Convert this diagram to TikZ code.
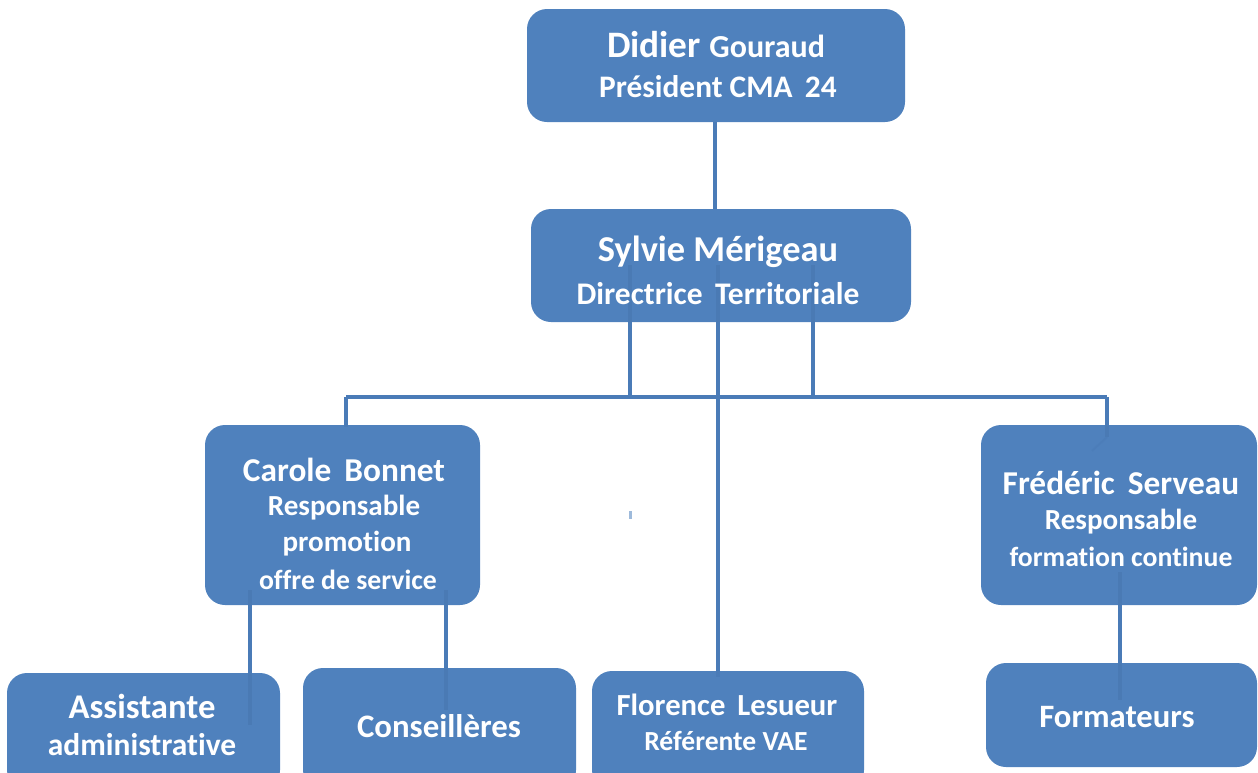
\documentclass[tikz,border=0pt]{standalone}
\usepackage{fontspec}
\setmainfont{Carlito}[BoldFont=* Bold, Ligatures=NoCommon]
\definecolor{boxblue}{HTML}{4F81BD}
\definecolor{lineblue}{HTML}{4A7BB7}
\newcommand{\fs}[1]{\fontsize{#1}{#1}\selectfont}
\begin{document}
\begin{tikzpicture}[x=0.75pt,y=-0.75pt,
  box/.style={fill=boxblue, draw=none, rounded corners=15pt, inner sep=0pt},
  txt/.style={text=white, font=\bfseries, align=center, inner sep=0pt},
  conn/.style={draw=lineblue, line width=3.6pt},
  faint/.style={draw=lineblue!85!black, line width=3pt, opacity=0.25},
  thin/.style={draw=lineblue, line width=1.5pt, opacity=0.5}]
\useasboundingbox (0,0) rectangle (1258,772);
\clip (0,0) rectangle (1258,772);
% boxes
\node[box, minimum width=283.5pt, minimum height=84.75pt] (top) at (716,65.5) {};
\node[box, minimum width=285pt, minimum height=84.75pt] (syl) at (721,265.5) {};
\node[box, minimum width=206.25pt, minimum height=135pt] (car) at (342.5,515) {};
\node[box, minimum width=207pt, minimum height=135pt] (fre) at (1119,515) {};
\node[box, minimum width=204.75pt, minimum height=87.75pt] (ass) at (143.5,731.5) {};
\node[box, minimum width=204.75pt, minimum height=91.5pt] (con) at (439.5,729) {};
\node[box, minimum width=204pt, minimum height=89.25pt] (flo) at (728,730.5) {};
\node[box, minimum width=203.25pt, minimum height=78pt] (for) at (1121.5,715) {};
% stray mark
\fill[boxblue!55] (629,511) rectangle (632,519);
% junction coordinates
\coordinate (s1) at (630,265);
\coordinate (s2) at (718,265);
\coordinate (s3) at (813,265);
\coordinate (s1b) at (630,322);
\coordinate (s2b) at (718,322);
\coordinate (s3b) at (813,322);
\coordinate (h1) at (630,397);
\coordinate (h3) at (813,397);
\coordinate (hl) at (346,397);
\coordinate (hr) at (1107,397);
\coordinate (fl) at (718,677);
\coordinate (cl) at (346,427);
\coordinate (fr0) at (1107,426);
\coordinate (fr1) at (1107,437);
\coordinate (fr2) at (1092,451);
\coordinate (c1) at (250,590);
\coordinate (c1b) at (250,605);
\coordinate (c1t) at (250,674);
\coordinate (c1e) at (250,725);
\coordinate (c2) at (446,590);
\coordinate (c2b) at (446,605);
\coordinate (c2t) at (446,669);
\coordinate (c2e) at (446,710);
\coordinate (f1) at (1120,572);
\coordinate (f1b) at (1120,605);
\coordinate (f1t) at (1120,664);
\coordinate (f1e) at (1120,700);
\coordinate (ta) at (715,122);
\coordinate (tb) at (715,209);
% connectors (outside boxes)
\draw[conn] (ta) -- (tb);
\draw[conn] (s1b) -- (h1);
\draw[conn] (s3b) -- (h3);
\draw[conn] (s2b) -- (fl);
\draw[conn] (hl) -- (hr);
\draw[conn] (hl) -- (cl);
\draw[conn] (hr) -- (fr0);
\draw[conn] (c1b) -- (c1t);
\draw[conn] (c2b) -- (c2t);
\draw[conn] (f1b) -- (f1t);
% connectors (seen faintly inside boxes)
\draw[faint] (s1) -- (s1b);
\draw[faint] (s2) -- (s2b);
\draw[faint] (s3) -- (s3b);
\draw[faint] (fr0) -- (fr1);
\draw[thin] (fr1) -- (fr2);
\draw[faint] (c1) -- (c1b);
\draw[faint] (c1t) -- (c1e);
\draw[faint] (c2) -- (c2b);
\draw[faint] (c2t) -- (c2e);
\draw[faint] (f1) -- (f1b);
\draw[faint] (f1t) -- (f1e);
% texts
\node[txt] (t1a) at (716,45) {\fs{28}Didier \fs{24}Gouraud};
\node[txt] (t1b) at (718,87) {\fs{23.5}Président CMA\, 24};
\node[txt] (t2a) at (718,252) {\fs{27.3}Sylvie Mérigeau};
\node[txt] (t2b) at (718,294) {\fs{23.6}Directrice\, Territoriale};
\node[txt] (t3a) at (344,470) {\fs{25}Carole\, Bonnet};
\node[txt] (t3b) at (344,508) {\fs{21.8}Responsable};
\node[txt] (t3c) at (347,544) {\fs{21.8}promotion};
\node[txt] (t3d) at (348,580) {\fs{20.8}offre de service};
\node[txt] (t4a) at (1121,483) {\fs{25}Frédéric\, Serveau};
\node[txt] (t4b) at (1121,522) {\fs{21.8}Responsable};
\node[txt] (t4c) at (1121,557) {\fs{20.8}formation continue};
\node[txt] (t5a) at (142,706) {\fs{26}Assistante};
\node[txt] (t5b) at (142,745) {\fs{23.6}administrative};
\node[txt] (t6) at (439,726) {\fs{24.6}Conseillères};
\node[txt] (t7a) at (727,705) {\fs{23}Florence\, Lesueur};
\node[txt] (t7b) at (726,741) {\fs{20.7}Référente VAE};
\node[txt] (t8) at (1117,717) {\fs{24.5}Formateurs};
\end{tikzpicture}
\end{document}
